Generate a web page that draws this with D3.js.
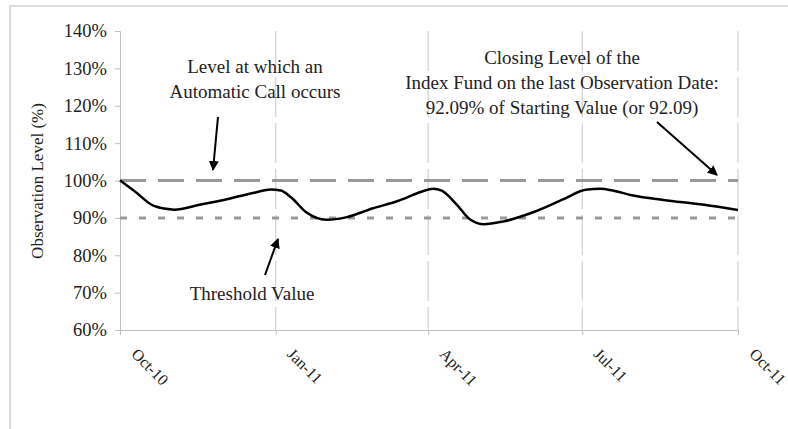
<!DOCTYPE html>
<html>
<head>
    <meta charset="UTF-8">
    <style>
        body { margin: 0; background: #fff; }
        text { font-family: "Liberation Serif", "Times New Roman", serif; fill: #222; }
    </style>
    <script src="https://d3js.org/d3.v7.min.js"></script>
</head>
<body>
    <svg id="chart" width="788" height="429"></svg>
    <script>
        // observation dates and index level (% of starting value)
        var dates = ["2010-10-01", "2010-10-10", "2010-10-21", "2010-11-02", "2010-11-17", "2010-12-05",
            "2010-12-20", "2010-12-29", "2011-01-04", "2011-01-10", "2011-01-19", "2011-01-31",
            "2011-02-12", "2011-02-27", "2011-03-14", "2011-03-28", "2011-04-04", "2011-04-09",
            "2011-04-18", "2011-04-26", "2011-05-04", "2011-05-15", "2011-06-02", "2011-06-20",
            "2011-07-03", "2011-07-12", "2011-07-19", "2011-07-31", "2011-08-18", "2011-09-11", "2011-10-01"];
        var levels = [100, 97, 93.2, 92.2, 93.5, 95.2,
            96.8, 97.6, 97.3, 95.5, 91.5, 89.5,
            90.2, 92.5, 94.5, 97, 97.8, 97.3,
            93.5, 89.5, 88.3, 89, 91.5, 95,
            97.5, 97.8, 97.3, 96, 94.8, 93.5, 92.09];
        var tickDates = ["2010-10-01", "2011-01-01", "2011-04-01", "2011-07-01", "2011-10-01"];
        var yTicks = [60, 70, 80, 90, 100, 110, 120, 130, 140];
        var callLevel = 100;
        var thresholdLevel = 90;

        var parse = d3.timeParse("%Y-%m-%d");
        var data = dates.map(function(d, i) { return { date: parse(d), v: levels[i] }; });

        var svg = d3.select("#chart");
        var pLeft = 120, pRight = 738, pTop = 31, pBottom = 330;

        // outer frame
        svg.append("rect")
            .attr("x", 10).attr("y", 6).attr("width", 800).attr("height", 440)
            .attr("fill", "none").attr("stroke", "#dcdcdc").attr("stroke-width", 2);

        var x = d3.scaleTime().domain([parse(tickDates[0]), parse(tickDates[tickDates.length - 1])]).range([pLeft, pRight]);
        var y = d3.scaleLinear().domain([60, 140]).range([pBottom, pTop]);

        // vertical gridlines
        svg.append("g").selectAll("line")
            .data(tickDates.slice(1))
            .enter().append("line")
            .attr("x1", function(d) { return x(parse(d)); })
            .attr("x2", function(d) { return x(parse(d)); })
            .attr("y1", pTop).attr("y2", pBottom)
            .attr("stroke", "#c8c8c8").attr("stroke-width", 1)
            .attr("stroke-dasharray", "40,6");

        // y axis
        var yAxis = svg.append("g")
            .attr("transform", "translate(" + pLeft + ",0)")
            .call(d3.axisLeft(y).tickValues(yTicks).tickSize(5).tickPadding(8)
                .tickFormat(function(d) { return d + "%"; }));
        yAxis.selectAll("path, line").attr("stroke", "#c0c0c0");
        yAxis.selectAll("text").attr("font-size", "18.5px").attr("font-family", "Liberation Serif").attr("fill", "#333");

        // x axis
        var xAxis = svg.append("g")
            .attr("transform", "translate(0," + pBottom + ")")
            .call(d3.axisBottom(x).tickValues(tickDates.map(parse)).tickSize(5)
                .tickFormat(d3.timeFormat("%b-%y")));
        xAxis.selectAll("path, line").attr("stroke", "#c0c0c0");
        xAxis.selectAll("text")
            .attr("font-size", "16px").attr("font-family", "Liberation Serif").attr("fill", "#333")
            .attr("text-anchor", "start")
            .attr("dy", null).attr("y", null)
            .attr("transform", "translate(10,25) rotate(45)");

        // y title
        svg.append("text")
            .attr("transform", "translate(43,181) rotate(-90)")
            .attr("text-anchor", "middle")
            .attr("font-size", "17px")
            .text("Observation Level (%)");

        // reference lines
        svg.append("line")
            .attr("x1", pLeft).attr("x2", pRight)
            .attr("y1", y(callLevel)).attr("y2", y(callLevel))
            .attr("stroke", "#999").attr("stroke-width", 3)
            .attr("stroke-dasharray", "26,12");
        svg.append("line")
            .attr("x1", pLeft).attr("x2", pRight)
            .attr("y1", y(thresholdLevel)).attr("y2", y(thresholdLevel))
            .attr("stroke", "#999").attr("stroke-width", 3)
            .attr("stroke-dasharray", "7,12");

        // index line
        var line = d3.line()
            .x(function(d) { return x(d.date); })
            .y(function(d) { return y(d.v); })
            .curve(d3.curveMonotoneX);
        svg.append("path")
            .datum(data)
            .attr("d", line)
            .attr("fill", "none")
            .attr("stroke", "#000")
            .attr("stroke-width", 2.5);

        // annotations
        var defs = svg.append("defs");
        defs.append("marker")
            .attr("id", "arrow")
            .attr("viewBox", "0 0 10 10")
            .attr("refX", 9).attr("refY", 5)
            .attr("markerWidth", 5).attr("markerHeight", 5)
            .attr("orient", "auto")
            .append("path")
            .attr("d", "M0,0 L10,5 L0,10 z")
            .attr("fill", "#000");

        function note(lines, cx, y0, lh) {
            var t = svg.append("text").attr("text-anchor", "middle").attr("font-size", "19px");
            lines.forEach(function(s, i) {
                t.append("tspan").attr("x", cx).attr("y", y0 + i * lh).text(s);
            });
        }
        function arrow(x1, y1, x2, y2) {
            svg.append("line")
                .attr("x1", x1).attr("y1", y1).attr("x2", x2).attr("y2", y2)
                .attr("stroke", "#000").attr("stroke-width", 2)
                .attr("marker-end", "url(#arrow)");
        }

        note(["Level at which an", "Automatic Call occurs"], 255, 73, 25);
        arrow(218, 117, 213, 170);

        note(["Closing Level of the", "Index Fund on the last Observation Date:", "92.09% of Starting Value (or 92.09)"], 562, 64, 25);
        arrow(657, 122, 717, 175);

        note(["Threshold Value"], 252, 300, 25);
        arrow(265, 275, 278, 239);
    </script>
</body>
</html>
